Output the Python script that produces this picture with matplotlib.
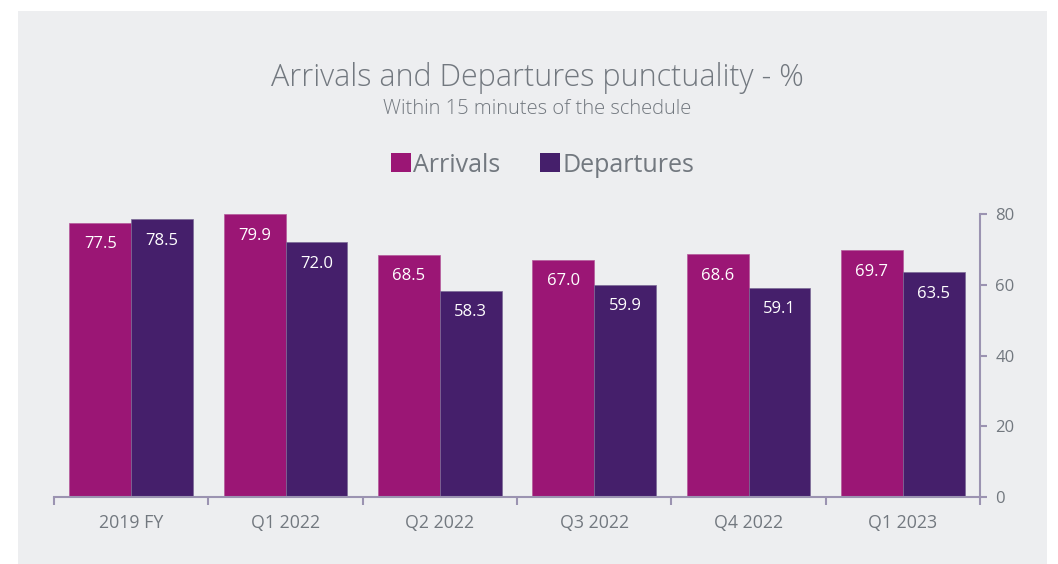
import matplotlib
matplotlib.use('Agg')
import matplotlib.pyplot as plt
import numpy as np
from matplotlib.patches import Rectangle, Patch

categories = ['2019 FY', 'Q1 2022', 'Q2 2022', 'Q3 2022', 'Q4 2022', 'Q1 2023']
arrivals = [77.5, 79.9, 68.5, 67.0, 68.6, 69.7]
departures = [78.5, 72.0, 58.3, 59.9, 59.1, 63.5]

ARR = '#9b1675'
DEP = '#451f6b'
GREY = '#72787f'
AXIS = '#9b93b1'
BG = '#edeef0'

plt.rcParams['font.family'] = ['Open Sans', 'DejaVu Sans']

fig = plt.figure(figsize=(10.58, 5.64), dpi=100)
fig.patches.append(Rectangle((18 / 1058, 0), 1029 / 1058, 1 - 11 / 564,
                             transform=fig.transFigure, facecolor=BG,
                             edgecolor='none', zorder=-10))

ax = fig.add_axes([54 / 1058, 1 - 497 / 564, (980 - 54) / 1058, (497 - 214) / 564])
ax.set_facecolor('none')

x = np.arange(len(categories))
w = 0.4
b1 = ax.bar(x - w / 2, arrivals, w, color=ARR, edgecolor='#b45a9a', linewidth=0.5)
b2 = ax.bar(x + w / 2, departures, w, color=DEP, edgecolor='#7a6a96', linewidth=0.5)

for bars, vals in ((b1, arrivals), (b2, departures)):
    for r, v in zip(bars, vals):
        ax.text(r.get_x() + r.get_width() / 2, v - 6.0, f'{v:.1f}',
                ha='center', va='center', color='white', fontsize=12)

ax.set_xlim(-0.5, len(categories) - 0.5)
ax.set_ylim(0, 80)

ax.yaxis.tick_right()
ax.set_yticks([0, 20, 40, 60, 80])
ax.tick_params(axis='y', colors=AXIS, labelcolor=GREY, labelsize=12,
               direction='out', length=5, width=1.5, pad=6)

ax.set_xticks(np.arange(len(categories) + 1) - 0.5)
ax.set_xticklabels([])
ax.set_xticks(x, minor=True)
ax.set_xticklabels(categories, minor=True)
ax.tick_params(axis='x', which='major', colors=AXIS, direction='out', length=6, width=1.5)
ax.tick_params(axis='x', which='minor', length=0, labelcolor=GREY, labelsize=12.8, pad=12)

for s in ('top', 'left'):
    ax.spines[s].set_visible(False)
for s in ('bottom', 'right'):
    ax.spines[s].set_color(AXIS)
    ax.spines[s].set_linewidth(1.5)

fig.text(0.508, 1 - 78 / 564, 'Arrivals and Departures punctuality - %',
         ha='center', va='center', color=GREY, fontsize=22, fontweight='light')
fig.text(0.508, 1 - 109 / 564, 'Within 15 minutes of the schedule',
         ha='center', va='center', color=GREY, fontsize=14.5, fontweight='light')

handles = [Patch(facecolor=ARR, label='Arrivals'), Patch(facecolor=DEP, label='Departures')]
leg = fig.legend(handles=handles, loc='center', bbox_to_anchor=(0.513, 1 - 165 / 564),
                 ncol=2, frameon=False, fontsize=18, handlelength=0.8, handleheight=0.8,
                 handletextpad=0.1, columnspacing=1.6)
for t in leg.get_texts():
    t.set_color(GREY)

fig.savefig('out.png', dpi=100, facecolor='white')
